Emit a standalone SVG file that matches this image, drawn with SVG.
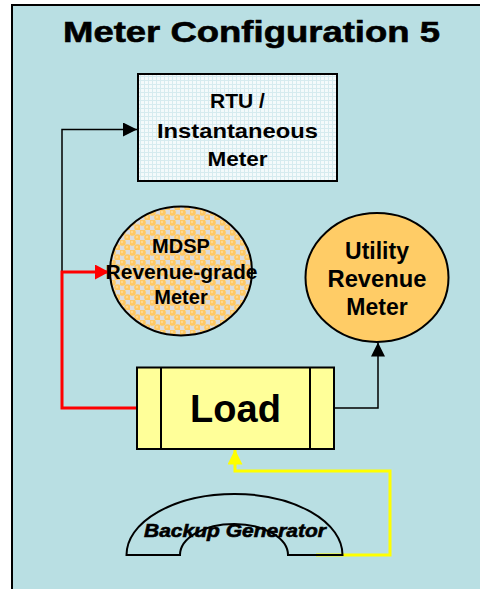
<svg xmlns="http://www.w3.org/2000/svg" width="480" height="589" viewBox="0 0 480 589">
<style>
.t{font-family:"Liberation Sans",Arial,sans-serif;font-weight:bold;fill:#000;text-anchor:middle}
.w{stroke:#000;stroke-width:0.6}
.sh{stroke:#000;stroke-width:2}
.conn{fill:none}
</style>
<defs>
<pattern id="grid" width="4" height="4" patternUnits="userSpaceOnUse">
<rect width="4" height="4" fill="#F4FAFB"/>
<path d="M0 0.5H4M0.5 0V4" stroke="#D6EBEF" stroke-width="1"/>
</pattern>
<pattern id="dots" width="10" height="10" patternUnits="userSpaceOnUse">
<rect width="10" height="10" fill="#DCDCDC"/>
<circle cx="2.5" cy="2.5" r="3.3" fill="#FFC864"/>
<circle cx="7.5" cy="7.5" r="3.3" fill="#FFC864"/>
<circle cx="2" cy="2" r="1.2" fill="#FFDA90"/>
<circle cx="7" cy="7" r="1.2" fill="#FFDA90"/>
</pattern>
<marker id="ab" markerUnits="userSpaceOnUse" markerWidth="16" markerHeight="16" refX="14" refY="7" orient="auto">
<path d="M0,0 L14,7 L0,14 Z" fill="#000"/>
</marker>
<marker id="ar" markerUnits="userSpaceOnUse" markerWidth="16" markerHeight="16" refX="14" refY="7.5" orient="auto">
<path d="M0,0 L14,7.5 L0,15 Z" fill="#FF0000"/>
</marker>
<marker id="ay" markerUnits="userSpaceOnUse" markerWidth="16" markerHeight="16" refX="15" refY="7.5" orient="auto">
<path d="M0,0 L15,7.5 L0,15 Z" fill="#FFFF00"/>
</marker>
</defs>
<rect id="frame" x="12" y="5" width="480" height="600" fill="#B9DFE3" stroke="#000" stroke-width="2"/>
<text id="title" class="t w" x="251.5" y="42" font-size="30" textLength="377" lengthAdjust="spacingAndGlyphs">Meter Configuration 5</text>

<g id="connectors" class="conn">
<path d="M137,408 H62 V129.5 H137" stroke="#000" stroke-width="1.5" marker-end="url(#ab)"/>
<path d="M137,408 H62 V272 H109" stroke="#FF0000" stroke-width="3" marker-end="url(#ar)"/>
<path d="M334,408 H378 V342.5" stroke="#000" stroke-width="1.5" marker-end="url(#ab)"/>
<path d="M316,555 H390 V471 H235 V449.5" stroke="#FFFF00" stroke-width="3" marker-end="url(#ay)"/>
</g>

<g id="rtu">
<rect x="138" y="74" width="199" height="107" fill="url(#grid)" class="sh"/>
<text class="t" x="237.5" y="107.5" font-size="21">RTU /</text>
<text class="t" x="237.5" y="137.5" font-size="21" textLength="161" lengthAdjust="spacingAndGlyphs">Instantaneous</text>
<text class="t" x="237.5" y="166" font-size="21" textLength="60" lengthAdjust="spacingAndGlyphs">Meter</text>
</g>

<g id="mdsp">
<ellipse cx="181" cy="271" rx="71" ry="64.5" fill="url(#dots)" class="sh"/>
<text class="t" x="181" y="253" font-size="20">MDSP</text>
<text class="t" x="181.5" y="279" font-size="20" textLength="152" lengthAdjust="spacingAndGlyphs">Revenue-grade</text>
<text class="t" x="181" y="304" font-size="20">Meter</text>
</g>

<g id="utility">
<ellipse cx="377" cy="277.5" rx="71.5" ry="64.5" fill="#FFCC66" class="sh"/>
<text class="t" x="377" y="259" font-size="23">Utility</text>
<text class="t" x="377" y="287" font-size="23" textLength="99" lengthAdjust="spacingAndGlyphs">Revenue</text>
<text class="t" x="377" y="315" font-size="23">Meter</text>
</g>

<g id="load">
<rect x="137" y="367.5" width="197" height="81.5" fill="#FFFF99" class="sh"/>
<line x1="161" y1="367.5" x2="161" y2="449" class="sh"/>
<line x1="310" y1="367.5" x2="310" y2="449" class="sh"/>
<text class="t" x="235.5" y="422" font-size="38">Load</text>
</g>

<g id="generator">
<path d="M126.5,555 A108,61 0 0 1 342.5,555 L288,555 A54,31 0 0 0 180,555 Z" fill="none" class="sh"/>
<text class="t w" x="235" y="537" font-size="19" font-style="italic" textLength="182" lengthAdjust="spacingAndGlyphs" stroke-width="0.4">Backup Generator</text>
</g>
</svg>
